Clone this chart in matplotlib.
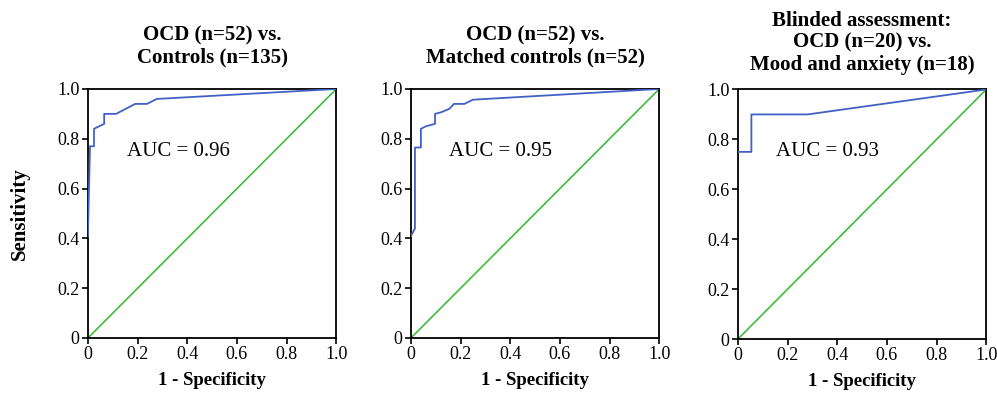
import matplotlib
matplotlib.use("Agg")
import matplotlib.pyplot as plt
from matplotlib.ticker import FuncFormatter

plt.rcParams['font.family'] = ['Liberation Serif', 'DejaVu Serif']

titles = ["OCD (n=52) vs.\nControls (n=135)",
          "OCD (n=52) vs.\nMatched controls (n=52)",
          "Blinded assessment:\nOCD (n=20) vs.\nMood and anxiety (n=18)"]
auc_labels = ["AUC = 0.96", "AUC = 0.95", "AUC = 0.93"]

fpr1 = [0.0, 0.0, 0.008, 0.024, 0.024, 0.065, 0.065, 0.073, 0.113, 0.19, 0.237, 0.277, 1.0]
tpr1 = [0.41, 0.44, 0.77, 0.77, 0.84, 0.86, 0.90, 0.90, 0.90, 0.94, 0.94, 0.96, 1.0]

fpr2 = [0.0, 0.016, 0.016, 0.04, 0.04, 0.06, 0.097, 0.097, 0.123, 0.154, 0.173, 0.215, 0.25, 1.0]
tpr2 = [0.41, 0.44, 0.765, 0.765, 0.84, 0.85, 0.86, 0.90, 0.907, 0.92, 0.94, 0.94, 0.957, 1.0]

fpr3 = [0.0, 0.054, 0.054, 0.28, 1.0]
tpr3 = [0.75, 0.75, 0.90, 0.90, 1.0]

curves = [(fpr1, tpr1), (fpr2, tpr2), (fpr3, tpr3)]
ticks = [0, 0.2, 0.4, 0.6, 0.8, 1.0]

fig = plt.figure(figsize=(9.97, 3.93), dpi=100)
lefts = [0.0883, 0.4122, 0.7402]
bottoms = [0.140, 0.140, 0.1374]
heights = [0.6336, 0.6336, 0.6349]
title_pads = [19, 19, 14]
width = 0.2490

def fmt(v, pos):
    return "0" if abs(v) < 1e-9 else f"{v:.1f}"

for i in range(3):
    ax = fig.add_axes([lefts[i], bottoms[i], width, heights[i]])
    fx, ty = curves[i]
    ax.plot([0, 1], [0, 1], color='#2dbb2d', lw=1.1, zorder=2)
    ax.plot(fx, ty, color='#4161c4', lw=1.3, zorder=3)
    ax.set_xlim(0, 1)
    ax.set_ylim(0, 1)
    ax.set_xticks(ticks)
    ax.set_yticks(ticks)
    ax.xaxis.set_major_formatter(FuncFormatter(fmt))
    ax.yaxis.set_major_formatter(FuncFormatter(fmt))
    ax.tick_params(direction='out', length=4, width=1.2, labelsize=13, pad=2)
    for s in ax.spines.values():
        s.set_linewidth(1.3)
    ax.set_title(titles[i], fontsize=15, fontweight='bold', pad=title_pads[i], linespacing=1.15)
    ax.set_xlabel("1 - Specificity", fontsize=13.5, fontweight='bold', labelpad=6)
    ax.text(0.155, 0.75, auc_labels[i], fontsize=15, va='center', ha='left')
    if i == 0:
        ax.set_ylabel("Sensitivity", fontsize=15, fontweight='bold', labelpad=20)

fig.savefig("out.png", dpi=100)
